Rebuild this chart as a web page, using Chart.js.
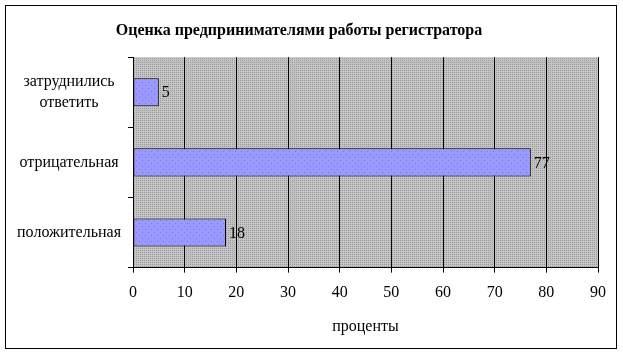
<!DOCTYPE html>
<html>
<head>
<meta charset="utf-8">
<script src="https://cdn.jsdelivr.net/npm/chart.js@4/dist/chart.umd.min.js"></script>
<style>
  html, body { margin: 0; padding: 0; background: #ffffff; }
  #wrap { width: 623px; height: 354px; position: relative; }
</style>
</head>
<body>
<div id="wrap"><canvas id="c" width="623" height="354"></canvas></div>
<script>
const categories = [["затруднились", "ответить"], "отрицательная", "положительная"];
const values = [5, 77, 18];
const xTicks = [0, 10, 20, 30, 40, 50, 60, 70, 80, 90];
const chartTitle = "Оценка предпринимателями работы регистратора";
const xAxisTitle = "проценты";

const FONT = '"Liberation Serif", "Times New Roman", serif';

function makePattern(size, base, dotColor, dots) {
  const pc = document.createElement('canvas');
  pc.width = size; pc.height = size;
  const g = pc.getContext('2d');
  g.fillStyle = base; g.fillRect(0, 0, size, size);
  g.fillStyle = dotColor;
  dots.forEach(d => g.fillRect(d[0], d[1], 1, 1));
  return document.getElementById('c').getContext('2d').createPattern(pc, 'repeat');
}
const plotBg = makePattern(4, '#c4c4c4', '#9a9a9a', [[0,0],[2,2],[2,0],[0,2]]);
const barFill = makePattern(6, '#9999ff', '#7777dd', [[1,1],[4,4]]);

const bgPlugin = {
  id: 'bg',
  beforeDraw(chart) {
    const {ctx, chartArea: a} = chart;
    ctx.save();
    ctx.fillStyle = plotBg;
    ctx.fillRect(a.left, a.top, a.right - a.left, a.bottom - a.top);
    ctx.restore();
  },
  afterDraw(chart) {
    const ctx = chart.ctx;
    ctx.save();
    ctx.strokeStyle = '#000';
    ctx.lineWidth = 1;
    ctx.strokeRect(5.5, 5.5, 611, 343);
    const meta = chart.getDatasetMeta(0);
    ctx.font = '16px ' + FONT;
    ctx.fillStyle = '#000';
    ctx.textBaseline = 'middle';
    ctx.textAlign = 'left';
    meta.data.forEach((bar, i) => {
      ctx.fillText(String(values[i]), bar.x + 3, bar.y + 1);
    });
    ctx.restore();
  }
};

new Chart(document.getElementById('c'), {
  type: 'bar',
  data: {
    labels: categories,
    datasets: [{
      data: values,
      backgroundColor: barFill,
      borderColor: '#000',
      borderWidth: 1,
      borderSkipped: false,
      barPercentage: 0.4,
      categoryPercentage: 1.0
    }]
  },
  options: {
    indexAxis: 'y',
    responsive: false,
    animation: false,
    devicePixelRatio: 1,
    layout: { padding: { left: 0, right: 25, top: 0, bottom: 0 } },
    plugins: {
      legend: { display: false },
      tooltip: { enabled: false },
      title: {
        display: true,
        text: chartTitle,
        color: '#000',
        font: { family: FONT, size: 16, weight: 'bold' },
        padding: { top: 21, bottom: 17 }
      }
    },
    scales: {
      x: {
        type: 'linear',
        min: 0, max: 90,
        afterBuildTicks(scale) { scale.ticks = xTicks.map(v => ({ value: v })); },
        grid: { color: '#000', lineWidth: 1, drawTicks: true, tickLength: 5, tickColor: '#000' },
        border: { display: true, color: '#000', width: 1 },
        ticks: {
          color: '#000', padding: 11,
          font: { family: FONT, size: 16 },
          maxRotation: 0, autoSkip: false
        },
        title: {
          display: true, text: xAxisTitle, color: '#000',
          font: { family: FONT, size: 16 },
          padding: { top: 3, bottom: 18 }
        }
      },
      y: {
        offset: true,
        afterFit(scale) { scale.width = 133; },
        grid: { offset: true, drawOnChartArea: false, drawTicks: true, tickLength: 5, tickColor: '#000', color: '#000' },
        border: { display: true, color: '#000', width: 1 },
        ticks: {
          color: '#000', padding: 7, crossAlign: 'center',
          font: { family: FONT, size: 16, lineHeight: 1.35 }
        }
      }
    }
  },
  plugins: [bgPlugin]
});
</script>
</body>
</html>
